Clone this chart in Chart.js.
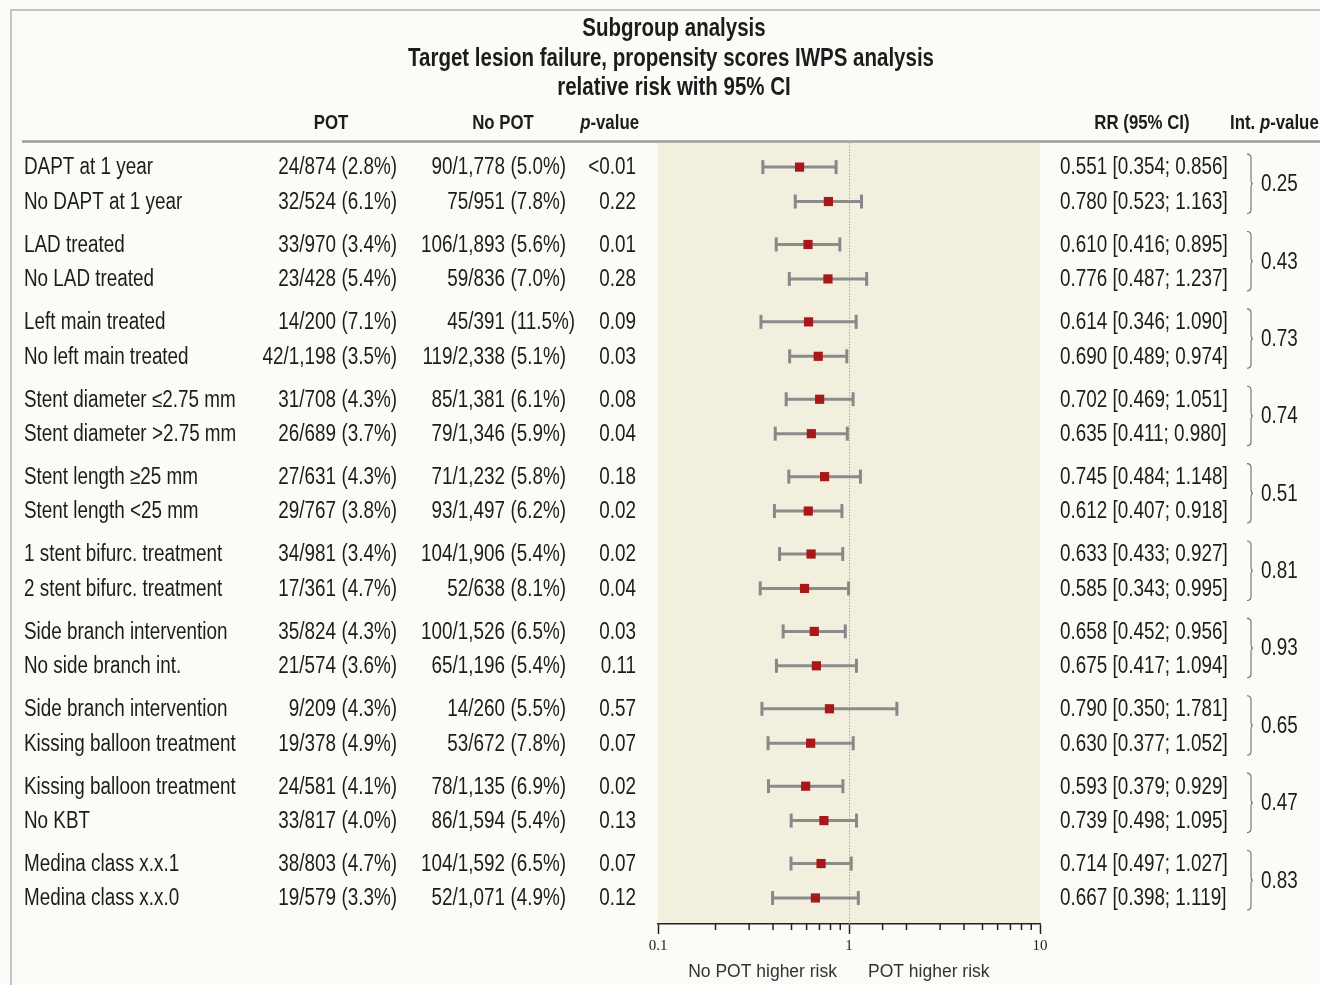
<!DOCTYPE html>
<html>
<head>
<meta charset="utf-8">
<title>Subgroup analysis</title>
<script src="https://cdn.jsdelivr.net/npm/chart.js@4.4.1/dist/chart.umd.min.js"></script>
<style>
  html, body { margin: 0; padding: 0; background: #fbfbf7; }
  canvas { display: block; }
</style>
</head>
<body>
<canvas id="forest" width="1320" height="985"></canvas>
<script>
// ---- Data -----------------------------------------------------------------
const subgroups = [
  "DAPT at 1 year", "No DAPT at 1 year",
  "LAD treated", "No LAD treated",
  "Left main treated", "No left main treated",
  "Stent diameter \u22642.75 mm", "Stent diameter >2.75 mm",
  "Stent length \u226525 mm", "Stent length <25 mm",
  "1 stent bifurc. treatment", "2 stent bifurc. treatment",
  "Side branch intervention", "No side branch int.",
  "Side branch intervention", "Kissing balloon treatment",
  "Kissing balloon treatment", "No KBT",
  "Medina class x.x.1", "Medina class x.x.0"
];
const potEvents = [
  "24/874 (2.8%)", "32/524 (6.1%)", "33/970 (3.4%)", "23/428 (5.4%)",
  "14/200 (7.1%)", "42/1,198 (3.5%)", "31/708 (4.3%)", "26/689 (3.7%)",
  "27/631 (4.3%)", "29/767 (3.8%)", "34/981 (3.4%)", "17/361 (4.7%)",
  "35/824 (4.3%)", "21/574 (3.6%)", "9/209 (4.3%)", "19/378 (4.9%)",
  "24/581 (4.1%)", "33/817 (4.0%)", "38/803 (4.7%)", "19/579 (3.3%)"
];
const noPotEvents = [
  "90/1,778 (5.0%)", "75/951 (7.8%)", "106/1,893 (5.6%)", "59/836 (7.0%)",
  "45/391 (11.5%)", "119/2,338 (5.1%)", "85/1,381 (6.1%)", "79/1,346 (5.9%)",
  "71/1,232 (5.8%)", "93/1,497 (6.2%)", "104/1,906 (5.4%)", "52/638 (8.1%)",
  "100/1,526 (6.5%)", "65/1,196 (5.4%)", "14/260 (5.5%)", "53/672 (7.8%)",
  "78/1,135 (6.9%)", "86/1,594 (5.4%)", "104/1,592 (6.5%)", "52/1,071 (4.9%)"
];
const pValues = [
  "<0.01", "0.22", "0.01", "0.28", "0.09", "0.03", "0.08", "0.04", "0.18", "0.02",
  "0.02", "0.04", "0.03", "0.11", "0.57", "0.07", "0.02", "0.13", "0.07", "0.12"
];
const rr = [0.551, 0.780, 0.610, 0.776, 0.614, 0.690, 0.702, 0.635, 0.745, 0.612,
            0.633, 0.585, 0.658, 0.675, 0.790, 0.630, 0.593, 0.739, 0.714, 0.667];
const ciLow = [0.354, 0.523, 0.416, 0.487, 0.346, 0.489, 0.469, 0.411, 0.484, 0.407,
               0.433, 0.343, 0.452, 0.417, 0.350, 0.377, 0.379, 0.498, 0.497, 0.398];
const ciHigh = [0.856, 1.163, 0.895, 1.237, 1.090, 0.974, 1.051, 0.980, 1.148, 0.918,
                0.927, 0.995, 0.956, 1.094, 1.781, 1.052, 0.929, 1.095, 1.027, 1.119];
const interactionP = ["0.25", "0.43", "0.73", "0.74", "0.51", "0.81", "0.93", "0.65", "0.47", "0.83"];
const axisTicks = [0.1, 1, 10];
const noEffect = 1;

// ---- Row layout: pairs of rows, with a wider gap between pairs -------------
const GROUP_STEP = 2.248;
const rowPos = subgroups.map((_, i) => Math.floor(i / 2) * GROUP_STEP + (i % 2));
const Y_MIN = -0.70, Y_MAX = rowPos[rowPos.length - 1] + 0.756;

const INK = "#1c1c1c";
const SANS = "'Liberation Sans', Arial, sans-serif";
const NARROW = 0.82;

// Draws a run of text pieces (some may be italic) squeezed horizontally.
function drawText(ctx, parts, x, y, o) {
  const sx = o.sx === undefined ? NARROW : o.sx;
  const fam = o.family || SANS;
  const fontFor = p => (p.italic ? "italic " : "") + (o.bold ? "bold " : "") + o.size + "px " + fam;
  ctx.save();
  ctx.fillStyle = o.color || INK;
  ctx.textBaseline = "middle";
  ctx.textAlign = "left";
  let total = 0;
  const widths = parts.map(p => { ctx.font = fontFor(p); const w = ctx.measureText(p.t).width; total += w; return w; });
  let cx = o.align === "right" ? -total : o.align === "center" ? -total / 2 : 0;
  ctx.translate(x, y);
  ctx.scale(sx, 1);
  parts.forEach((p, i) => { ctx.font = fontFor(p); ctx.fillText(p.t, cx, 0); cx += widths[i]; });
  ctx.restore();
}
const T = s => [{ t: s }];
const fmt = v => v.toFixed(3);

// ---- Decorations: frame, panel, table columns ----------------------------
const forestDecor = {
  id: "forestDecor",
  beforeDraw(chart) {
    const { ctx, chartArea: a } = chart;
    ctx.save();
    ctx.fillStyle = "#fbfbf7";
    ctx.fillRect(0, 0, chart.width, chart.height);
    ctx.strokeStyle = "#c4c4c4";
    ctx.lineWidth = 2;
    ctx.beginPath();
    ctx.moveTo(11, chart.height);
    ctx.lineTo(11, 10);
    ctx.lineTo(chart.width, 10);
    ctx.stroke();
    ctx.fillStyle = "#f3efdf";
    ctx.fillRect(a.left, a.top, a.right - a.left, a.bottom - a.top);
    ctx.restore();
  },
  beforeDatasetsDraw(chart) {
    const { ctx, chartArea: a, scales: { x } } = chart;
    const px = Math.round(x.getPixelForValue(noEffect)) + 0.5;
    ctx.save();
    ctx.strokeStyle = "#a6a6a6";
    ctx.lineWidth = 1;
    ctx.setLineDash([1.5, 1.5]);
    ctx.beginPath();
    ctx.moveTo(px, a.top);
    ctx.lineTo(px, a.bottom);
    ctx.stroke();
    ctx.restore();
  },
  afterDraw(chart) {
    const { ctx, chartArea: a, scales: { x, y } } = chart;
    ctx.save();

    // minor ticks of the log axis
    ctx.strokeStyle = "#222";
    ctx.lineWidth = 1.5;
    x.ticks.forEach(t => {
      const lg = Math.log10(t.value);
      if (Math.abs(lg - Math.round(lg)) < 1e-6) return;
      const px = x.getPixelForValue(t.value);
      ctx.beginPath();
      ctx.moveTo(px, a.bottom);
      ctx.lineTo(px, a.bottom + 6);
      ctx.stroke();
    });

    // header rule
    ctx.strokeStyle = "#9d9d9d";
    ctx.lineWidth = 2.5;
    ctx.beginPath();
    ctx.moveTo(22, 141.5);
    ctx.lineTo(chart.width, 141.5);
    ctx.stroke();
    ctx.restore();

    // title
    drawText(ctx, T("Subgroup analysis"), 674, 29, { size: 25, bold: true, align: "center" });
    drawText(ctx, T("Target lesion failure, propensity scores IWPS analysis"), 671, 59, { size: 25, bold: true, align: "center" });
    drawText(ctx, T("relative risk with 95% CI"), 674, 88, { size: 25, bold: true, align: "center" });

    // column headers
    const hy = 123, hs = 20.5;
    drawText(ctx, T("POT"), 331, hy, { size: hs, bold: true, align: "center" });
    drawText(ctx, T("No POT"), 503, hy, { size: hs, bold: true, align: "center" });
    drawText(ctx, [{ t: "p", italic: true }, { t: "-value" }], 639, hy, { size: hs, bold: true, align: "right" });
    drawText(ctx, T("RR (95% CI)"), 1142, hy, { size: hs, bold: true, align: "center" });
    drawText(ctx, [{ t: "Int. " }, { t: "p", italic: true }, { t: "-value" }], 1230, hy, { size: hs, bold: true, align: "left" });

    // table rows
    const fs = 23;
    subgroups.forEach((label, i) => {
      const py = y.getPixelForValue(rowPos[i]) + 1;
      drawText(ctx, T(label), 24, py, { size: fs });
      const [pc, pp] = potEvents[i].split(" ");
      drawText(ctx, T(pc), 336, py, { size: fs, align: "right" });
      drawText(ctx, T(pp), 341.5, py, { size: fs });
      const [nc, np] = noPotEvents[i].split(" ");
      drawText(ctx, T(nc), 505, py, { size: fs, align: "right" });
      drawText(ctx, T(np), 510.5, py, { size: fs });
      drawText(ctx, T(pValues[i]), 636, py, { size: fs, align: "right" });
      drawText(ctx, T(fmt(rr[i]) + " [" + fmt(ciLow[i]) + "; " + fmt(ciHigh[i]) + "]"), 1060, py, { size: fs });
    });

    // interaction braces and p-values
    interactionP.forEach((p, g) => {
      const y1 = y.getPixelForValue(rowPos[2 * g]) - 13;
      const y2 = y.getPixelForValue(rowPos[2 * g + 1]) + 12;
      const ym = (y1 + y2) / 2;
      const bx = 1248, mx = 1253;
      ctx.save();
      ctx.strokeStyle = "#6e6e6e";
      ctx.lineWidth = 1.1;
      ctx.beginPath();
      ctx.moveTo(bx - 1, y1);
      ctx.quadraticCurveTo(bx + 3, y1, bx + 3, y1 + 4);
      ctx.lineTo(bx + 3, ym - 4);
      ctx.quadraticCurveTo(bx + 3, ym, mx, ym);
      ctx.quadraticCurveTo(bx + 3, ym, bx + 3, ym + 4);
      ctx.lineTo(bx + 3, y2 - 4);
      ctx.quadraticCurveTo(bx + 3, y2, bx - 1, y2);
      ctx.stroke();
      ctx.restore();
      drawText(ctx, T(p), 1261, ym + 1, { size: fs });
    });

    // direction captions under the axis
    drawText(ctx, T("No POT higher risk"), 837, 972, { size: 17.5, sx: 1, align: "right", color: "#333" });
    drawText(ctx, T("POT higher risk"), 868, 972, { size: 17.5, sx: 1, align: "left", color: "#333" });
  }
};

// ---- Datasets -------------------------------------------------------------
const ciLines = subgroups.map((_, i) => ({
  type: "scatter",
  showLine: true,
  data: [{ x: ciLow[i], y: rowPos[i] }, { x: ciHigh[i], y: rowPos[i] }],
  borderColor: "#8b8b8b",
  borderWidth: 3,
  pointRadius: 0,
  order: 3
}));

const datasets = [
  {
    label: "RR",
    data: rr.map((v, i) => ({ x: v, y: rowPos[i] })),
    pointStyle: "rect",
    pointRadius: 6.5,
    backgroundColor: "#a81818",
    borderColor: "#a81818",
    borderWidth: 0,
    order: 1
  },
  {
    label: "CI limits",
    data: ciLow.map((v, i) => ({ x: v, y: rowPos[i] })).concat(ciHigh.map((v, i) => ({ x: v, y: rowPos[i] }))),
    pointStyle: "line",
    rotation: 90,
    pointRadius: 7,
    borderColor: "#888888",
    borderWidth: 3,
    order: 2
  },
  ...ciLines
];

new Chart(document.getElementById("forest"), {
  type: "scatter",
  data: { datasets },
  plugins: [forestDecor],
  options: {
    responsive: false,
    devicePixelRatio: 1,
    animation: false,
    events: [],
    layout: { padding: { left: 658, right: 280, top: 143, bottom: 27 } },
    plugins: { legend: { display: false }, tooltip: { enabled: false }, title: { display: false } },
    scales: {
      x: {
        type: "logarithmic",
        min: 0.1,
        max: 10,
        position: "bottom",
        border: { display: true, color: "#222", width: 1.5 },
        grid: {
          display: true,
          drawOnChartArea: false,
          drawTicks: true,
          tickLength: 10,
          tickWidth: 1.5,
          tickColor: c => (axisTicks.includes(Math.round(c.tick.value * 1000) / 1000) ? "#222" : "rgba(0,0,0,0)")
        },
        ticks: {
          autoSkip: false,
          maxRotation: 0,
          padding: 3,
          color: "#222",
          font: { family: "'Liberation Serif', 'Times New Roman', serif", size: 15 },
          callback: v => {
            const r = Math.round(v * 1000) / 1000;
            return axisTicks.includes(r) ? String(r) : "";
          }
        }
      },
      y: {
        type: "linear",
        reverse: true,
        min: Y_MIN,
        max: Y_MAX,
        display: false
      }
    }
  }
});
</script>
</body>
</html>
